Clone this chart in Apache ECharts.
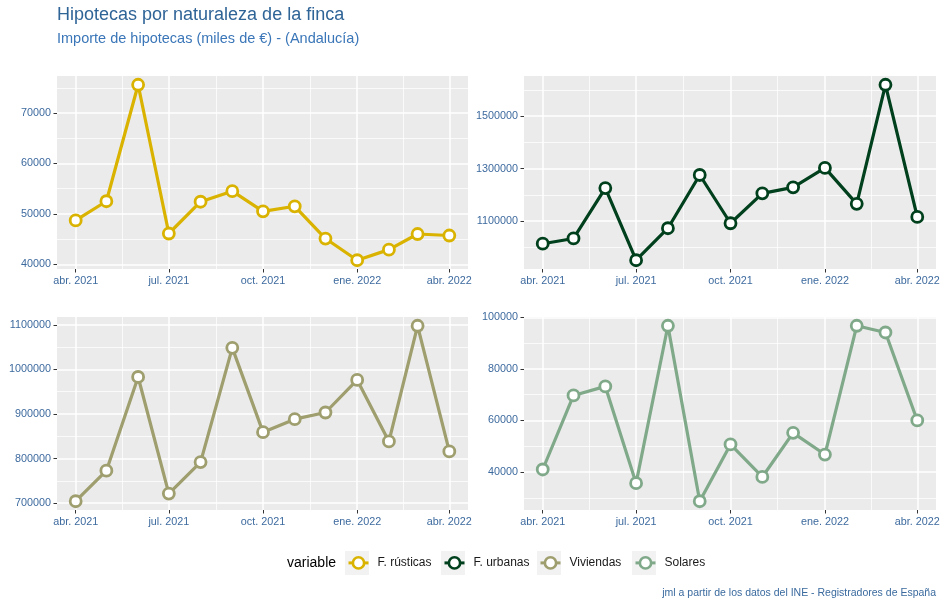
<!DOCTYPE html>
<html><head><meta charset="utf-8">
<style>html,body{margin:0;padding:0;background:#fff}#c{width:944px;height:607px}</style>
<script src="https://cdn.jsdelivr.net/npm/echarts@6.0.0/dist/echarts.min.js"></script>
</head><body><div id="c"></div>
<script>
const months = ['2021-04','2021-05','2021-06','2021-07','2021-08','2021-09','2021-10','2021-11','2021-12','2022-01','2022-02','2022-03','2022-04'];
const seriesNames = ['F. rústicas','F. urbanas','Viviendas','Solares'];
const rusticas = [48700,52500,75600,46100,52400,54500,50500,51500,45100,40800,42900,46000,45700];
const urbanas = [1014000,1034000,1226000,951000,1073000,1276000,1092000,1206000,1229000,1303000,1166000,1620000,1116000];
const viviendas = [704500,773000,983000,721700,792300,1048300,859300,888400,903400,976400,838500,1097800,816200];
const solares = [41000,69700,73200,35700,96700,28700,50700,38100,55200,46800,96700,94100,60000];
const xTickMonths = ['2021-04','2021-07','2021-10','2022-01','2022-04'];
const xTickLabels = ['abr. 2021','jul. 2021','oct. 2021','ene. 2022','abr. 2022'];
const yTicks = [[40000,50000,60000,70000],[1100000,1300000,1500000],[700000,800000,900000,1000000,1100000],[40000,60000,80000,100000]];
const yMinorTicks = [[45000,55000,65000,75000],[1000000,1200000,1400000,1600000],[750000,850000,950000,1050000],[30000,50000,70000,90000]];
const colors = ['#D9B300','#00401D','#9E9E6E','#80A98A'];

const values = [rusticas, urbanas, viviendas, solares];
const panels = [
  {left:57, top:76, width:411, height:193},
  {left:524, top:76, width:412, height:193},
  {left:57, top:317, width:411, height:193},
  {left:524, top:317, width:412, height:193}
];
function ts(m){ const [y,mo]=m.split('-').map(Number); return Date.UTC(y,mo-1,1); }
const xs = months.map(ts);
const xSpan = xs[xs.length-1]-xs[0];
const xMin = xs[0]-0.05*xSpan, xMax = xs[xs.length-1]+0.05*xSpan;
const xMajor = xTickMonths.map(ts);
const xMinor = [];
for (let i=0;i<xMajor.length-1;i++) xMinor.push((xMajor[i]+xMajor[i+1])/2);
const labelMap = {};
xMajor.forEach((t,i)=>labelMap[t]=xTickLabels[i]);

const FONT = 'Liberation Sans, Arial, sans-serif';
const labelColor = '#3D6A9E';
const grids=[], xAxes=[], yAxes=[], series=[];
panels.forEach((p,i)=>{
  grids.push(Object.assign({show:true, backgroundColor:'#EBEBEB', borderWidth:0}, p));
  const vals = values[i];
  const vmin = Math.min(...vals), vmax = Math.max(...vals), r = vmax-vmin;
  const yMin = vmin-0.05*r, yMax = vmax+0.05*r;
  xAxes.push({type:'value', gridIndex:i, min:xMin, max:xMax, position:'bottom',
    axisLine:{show:false},
    axisTick:{show:true, length:3.5, lineStyle:{color:'#333', width:1}, customValues:xMajor},
    axisLabel:{show:true, customValues:xMajor, formatter:v=>labelMap[v]||'', color:labelColor, fontSize:10.8, fontFamily:FONT, margin:6.5},
    splitLine:{show:true, lineStyle:{color:'#fff', width:1.5}}
  });
  xAxes.push({type:'value', gridIndex:i, min:xMin, max:xMax, position:'top',
    axisLine:{show:false}, axisLabel:{show:false},
    axisTick:{show:false, customValues:xMinor},
    splitLine:{show:true, lineStyle:{color:'#fff', width:0.75}}
  });
  yAxes.push({type:'value', gridIndex:i, min:yMin, max:yMax, position:'left',
    axisLine:{show:false},
    axisTick:{show:true, length:3.5, lineStyle:{color:'#333', width:1}, customValues:yTicks[i]},
    axisLabel:{show:true, customValues:yTicks[i], formatter:v=>String(v), color:labelColor, fontSize:10.8, fontFamily:FONT, margin:6},
    splitLine:{show:true, lineStyle:{color:'#fff', width:1.5}}
  });
  yAxes.push({type:'value', gridIndex:i, min:yMin, max:yMax, position:'right',
    axisLine:{show:false}, axisLabel:{show:false},
    axisTick:{show:false, customValues:yMinorTicks[i]},
    splitLine:{show:true, lineStyle:{color:'#fff', width:0.75}}
  });
  series.push({type:'line', name:seriesNames[i], xAxisIndex:2*i, yAxisIndex:2*i,
    data: xs.map((x,j)=>[x, vals[j]]),
    symbol:'circle', symbolSize:11, showSymbol:true, animation:false, z:3,
    color: colors[i],
    lineStyle:{color:colors[i], width:3.2},
    itemStyle:{color:'#fff', borderColor:colors[i], borderWidth:2.8}
  });
});

const boxX = [345, 441, 537, 632];
const legends = seriesNames.map((n,i)=>({
  data:[n], left: boxX[i]+2, top: 556, padding:0, itemWidth:20, itemHeight:14,
  selectedMode:false,
  itemStyle:{borderWidth:2.6},
  lineStyle:{width:3},
  textStyle:{fontSize:12, color:'#1A1A1A', fontFamily:FONT, padding:[0,0,0,4]}
}));

const graphics = [
  {type:'text', left:57, top:6, style:{text:'Hipotecas por naturaleza de la finca', fontSize:18, fontFamily:FONT, fill:'#2F6497'}},
  {type:'text', left:57, top:31, style:{text:'Importe de hipotecas (miles de €) - (Andalucía)', fontSize:14.5, fontFamily:FONT, fill:'#3A76B8'}},
  {type:'text', left:287, top:556, style:{text:'variable', fontSize:14, fontFamily:FONT, fill:'#000'}},
  {type:'text', right:8, top:588, style:{text:'jml a partir de los datos del INE - Registradores de España', fontSize:10.5, fontFamily:FONT, fill:'#3A6A9E'}}
];
boxX.forEach(x=>graphics.push({type:'rect', shape:{x:x, y:551, width:24, height:24}, style:{fill:'#F2F2F2'}, z:-1}));

const chart = echarts.init(document.getElementById('c'), null, {renderer:'canvas'});
chart.setOption({animation:false, backgroundColor:'#fff', grid:grids, xAxis:xAxes, yAxis:yAxes, series:series, legend:legends, graphic:graphics});
</script></body></html>
